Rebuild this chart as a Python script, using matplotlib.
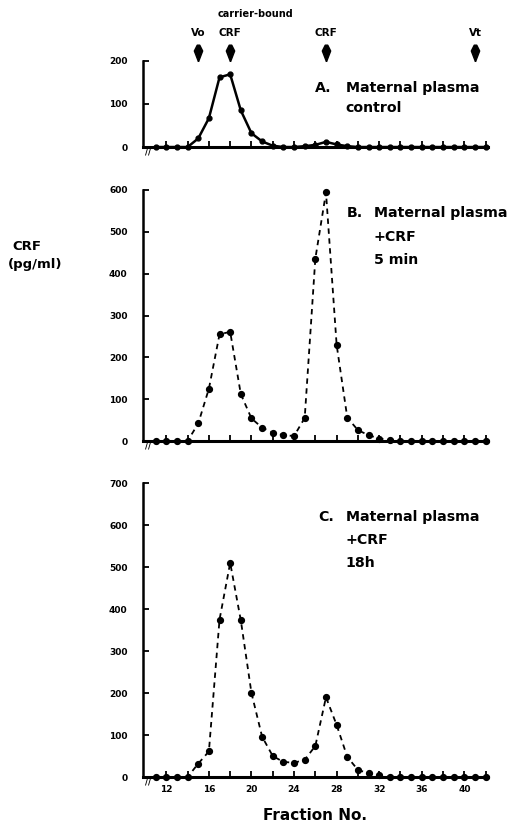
import numpy as np
import matplotlib.pyplot as plt
from matplotlib.transforms import blended_transform_factory

plt.rcParams['font.family'] = ['DejaVu Sans']
plt.rcParams['font.weight'] = 'bold'

# Fracciones de la columna
fractions = np.arange(11, 43)

# Valores de CRF (pg/ml)
ctrl_peak = {15: 20, 16: 67, 17: 162, 18: 169, 19: 85, 20: 32, 21: 13, 22: 3,
             25: 2, 26: 5, 27: 12, 28: 6, 29: 2}
min5_peak = {15: 42, 16: 125, 17: 255, 18: 261, 19: 112, 20: 54, 21: 32, 22: 20,
             23: 14, 24: 12, 25: 55, 26: 436, 27: 594, 28: 230, 29: 56, 30: 26,
             31: 14, 32: 6, 33: 3}
h18_peak = {15: 32, 16: 61, 17: 375, 18: 510, 19: 373, 20: 200, 21: 96, 22: 50,
            23: 36, 24: 34, 25: 41, 26: 74, 27: 190, 28: 124, 29: 48, 30: 17,
            31: 9, 32: 4}

control = np.array([ctrl_peak.get(f, 0) for f in fractions])
crf_5min = np.array([min5_peak.get(f, 0) for f in fractions])
crf_18h = np.array([h18_peak.get(f, 0) for f in fractions])

# Marcadores de elucion
marker_fr = [15, 18, 27, 41]
marker_lab = ['Vo', 'CRF', 'CRF', 'Vt']

fig = plt.figure(figsize=(5.14, 8.34), dpi=100)

panels = [
    ([0.278, 0.8237, 0.671, 0.1032], control, '-', 200, [0, 100, 200],
     ['A.', 'Maternal plasma', 'control']),
    ([0.278, 0.4712, 0.671, 0.3010], crf_5min, '--', 600, np.arange(0, 700, 100),
     ['B.', 'Maternal plasma', '+CRF', '5 min']),
    ([0.278, 0.0683, 0.671, 0.3525], crf_18h, '--', 700, np.arange(0, 800, 100),
     ['C.', 'Maternal plasma', '+CRF', '18h']),
]
# posicion del texto (x letra, x texto, y de cada linea) en fraccion de ejes
text_pos = [
    (0.499, 0.588, [0.686, 0.453]),
    (0.591, 0.669, [0.908, 0.813, 0.721]),
    (0.507, 0.588, [0.884, 0.806, 0.728]),
]

axes = []
for (rect, vals, ls, ymax, yt, lines), (x0, x1, ys) in zip(panels, text_pos):
    ax = fig.add_axes(rect)
    if ls == '-':
        ax.plot(fractions, vals, color='black', ls='-', lw=1.8, marker='o', ms=3.5,
                clip_on=False, zorder=3)
    else:
        ax.plot(fractions, vals, color='black', ls='--', lw=1.3, dashes=(3, 2.5),
                marker='o', ms=4.2, clip_on=False, zorder=3)
    ax.set_xlim(9.8, 42.2)
    ax.set_ylim(0, ymax)
    ax.set_yticks(yt)
    ax.set_yticklabels([str(v) for v in yt], fontsize=6.5, fontweight='heavy')
    ax.set_xticks(np.arange(12, 43, 2))
    ax.tick_params(axis='both', direction='in', length=4, width=1.3, pad=11)
    ax.tick_params(axis='x', pad=6)
    for s in ['top', 'right']:
        ax.spines[s].set_visible(False)
    ax.spines['left'].set_linewidth(1.8)
    ax.spines['bottom'].set_linewidth(2.2)
    ax.text(x0, ys[0], lines[0], transform=ax.transAxes, fontsize=10.2,
            fontweight='bold', va='center', ha='left')
    for txt, y in zip(lines[1:], ys):
        ax.text(x1, y, txt, transform=ax.transAxes, fontsize=10.2,
                fontweight='bold', va='center', ha='left')
    # corte del eje
    ax.text(10.3, 0, '//', fontsize=6, ha='center', va='top', fontweight='bold')
    axes.append(ax)

for ax in axes[:2]:
    ax.set_xticklabels([])

axc = axes[2]
axc.set_xticklabels([str(v) if v % 4 == 0 else '' for v in np.arange(12, 43, 2)],
                    fontsize=6.5, fontweight='heavy')
axc.set_xlabel('Fraction No.', fontsize=11, fontweight='bold', labelpad=10)

# flechas sobre el panel A
axa = axes[0]
trans = blended_transform_factory(axa.transData, axa.transAxes)
drop = [(0, -1), (0.5, 0.3), (0.15, 1), (-0.15, 1), (-0.5, 0.3), (0, -1)]
for f, lab in zip(marker_fr, marker_lab):
    axa.plot([f], [1.09], transform=trans, marker=drop, ms=12, color='black',
             clip_on=False)
    axa.text(f, 1.33, lab, transform=trans, fontsize=7.5, fontweight='bold',
             ha='center', va='center')
axa.text(16.8, 1.54, 'carrier-bound', transform=trans, fontsize=7,
         fontweight='bold', ha='left', va='center')

fig.text(0.025, 0.705, 'CRF', fontsize=9.5, fontweight='bold', ha='left', va='center')
fig.text(0.016, 0.683, '(pg/ml)', fontsize=9.5, fontweight='bold', ha='left',
         va='center')

fig.savefig('out.png', dpi=100)
